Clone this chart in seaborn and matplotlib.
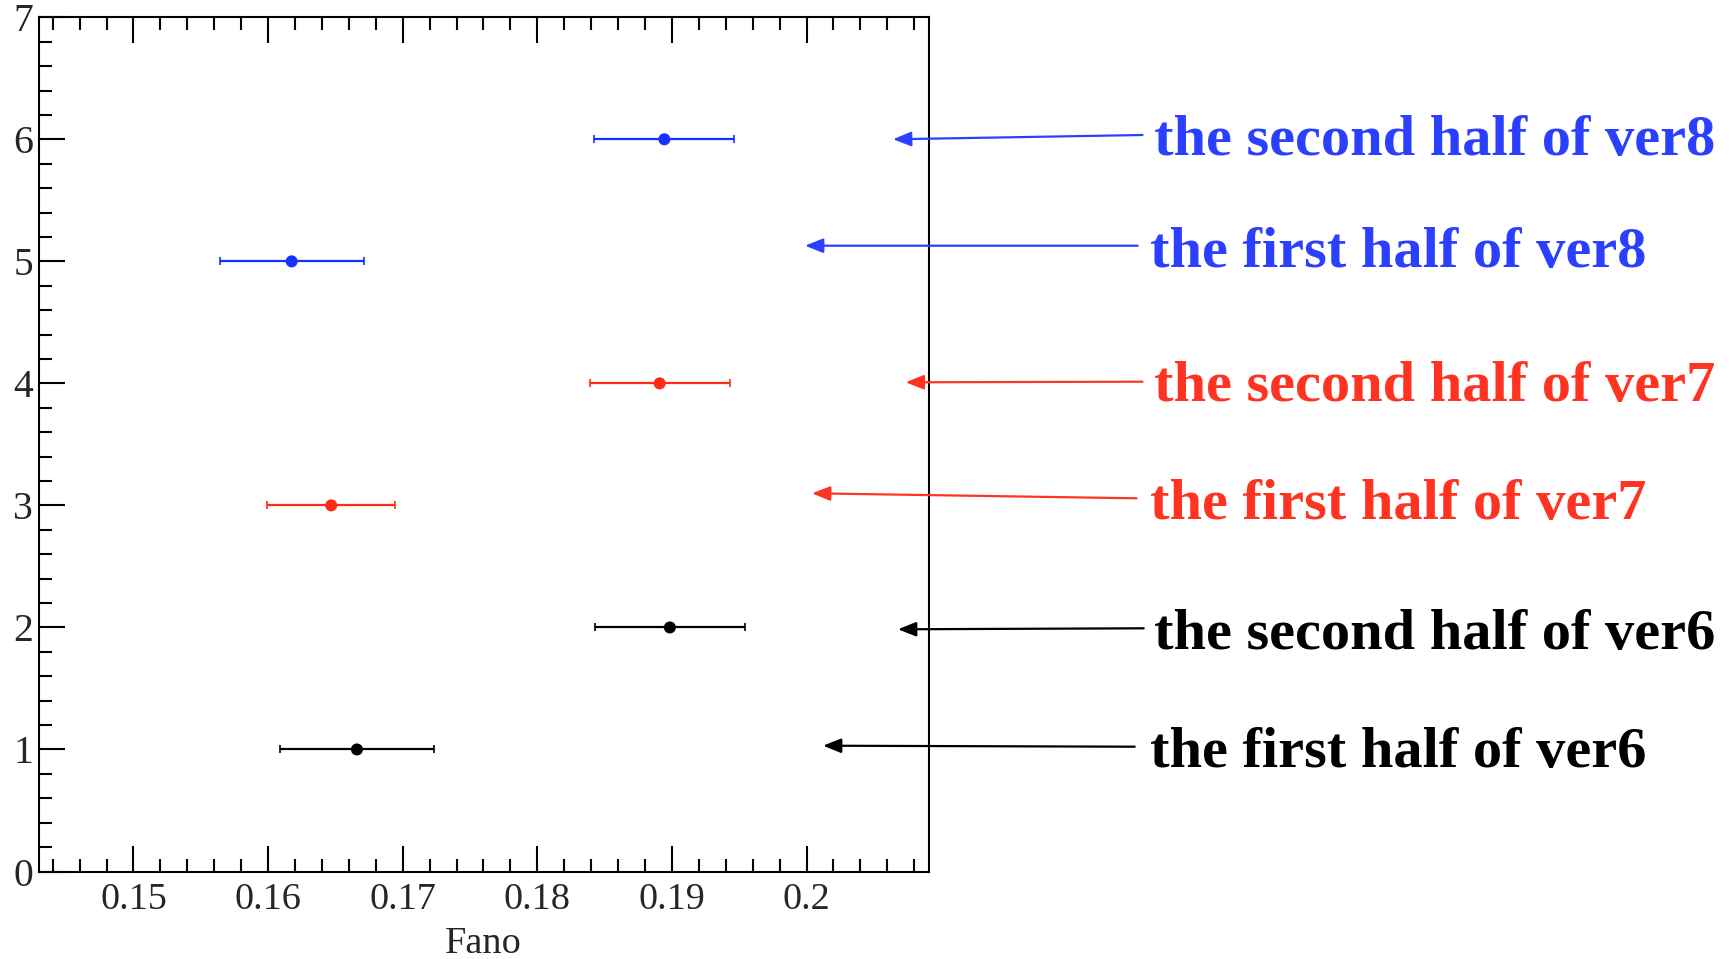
import numpy as np
import pandas as pd
import matplotlib
matplotlib.use("Agg")
import matplotlib.pyplot as plt
from matplotlib.ticker import MultipleLocator, FuncFormatter
import seaborn as sns

# ---------------- data ----------------
labels = ["the first half of ver6", "the second half of ver6",
          "the first half of ver7", "the second half of ver7",
          "the first half of ver8", "the second half of ver8"]
y_index = [1, 2, 3, 4, 5, 6]
fano = [0.1666, 0.18985, 0.16469, 0.18909, 0.16175, 0.18944]
fano_err = [0.0057, 0.00557, 0.00475, 0.0052, 0.00535, 0.0052]
version = ["ver6", "ver6", "ver7", "ver7", "ver8", "ver8"]

df = pd.DataFrame({"label": labels, "y": y_index, "fano": fano,
                   "err": fano_err, "version": version})

# ---------------- style ----------------
sns.set_theme(style="ticks")
plt.rcParams["font.family"] = ["Liberation Serif", "DejaVu Serif"]

W, H = 1730, 959
fig = plt.figure(figsize=(W / 100, H / 100), dpi=100)
ax = fig.add_axes([38.6 / W, 1 - 871.5 / H, (929 - 38.6) / W, (871.5 - 17.3) / H])

palette = {"ver6": "#000000", "ver7": "#ff2a12", "ver8": "#1530ff"}
text_colors = {"ver6": "#000000", "ver7": "#ff3322", "ver8": "#2b40ff"}

for v, sub in df.groupby("version"):
    ax.errorbar(sub["fano"], sub["y"], xerr=sub["err"], fmt="none",
                ecolor=palette[v], elinewidth=1.6, capsize=3, capthick=1.2,
                zorder=2)

sns.scatterplot(data=df, x="fano", y="y", hue="version", palette=palette,
                s=75, edgecolor="none", legend=False, ax=ax, zorder=3)

ax.set_xlim(0.14295, 0.2091)
ax.set_ylim(0, 7)
ax.xaxis.set_major_locator(MultipleLocator(0.01))
ax.xaxis.set_minor_locator(MultipleLocator(0.002))
ax.yaxis.set_major_locator(MultipleLocator(1))
ax.yaxis.set_minor_locator(MultipleLocator(0.2))
ax.xaxis.set_major_formatter(FuncFormatter(lambda v, p: f"{v:.2f}".rstrip("0") if abs(v - 0.2) < 1e-9 else f"{v:.2f}"))
ax.yaxis.set_major_formatter(FuncFormatter(lambda v, p: f"{int(round(v))}"))

for s in ax.spines.values():
    s.set_visible(True)
    s.set_color("black")
    s.set_linewidth(1.5)

ax.tick_params(axis="x", which="both", direction="in", top=True, bottom=True,
               labelsize=27.5, color="black", width=1.5, pad=8)
ax.tick_params(axis="x", which="major", length=18.5)
ax.tick_params(axis="x", which="minor", length=9.2)
ax.tick_params(axis="y", which="both", direction="in", left=True, right=False,
               labelsize=28.5, color="black", width=1.5, pad=4)
ax.tick_params(axis="y", which="major", length=19)
ax.tick_params(axis="y", which="minor", length=9.4)

ax.set_xlabel("Fano", fontsize=27.5, labelpad=7)
ax.set_ylabel("")

# ---------------- annotations (layout, figure pixels from top-left) ----------------
arrow_tip = [(823, 745.7), (898, 629.3), (812, 493.3), (905.7, 382.3), (805, 245.7), (893, 139.3)]
arrow_tail = [(1134.7, 746.7), (1143.7, 628.3), (1136.5, 498.3), (1142.5, 381.7), (1137.7, 245.7), (1142.5, 135)]
text_pos = [(1150, 766.7), (1154, 649.3), (1150, 518.6), (1154, 401), (1150, 266.7), (1154, 155)]

for lab, v, tip, tail, tp in zip(labels, version, arrow_tip, arrow_tail, text_pos):
    c = text_colors[v]
    ax.annotate("", xy=(tip[0] / W, 1 - tip[1] / H), xycoords="figure fraction",
                xytext=(tail[0] / W, 1 - tail[1] / H), textcoords="figure fraction",
                arrowprops=dict(arrowstyle="-|>,head_length=0.55,head_width=0.22",
                                mutation_scale=20, color=c, lw=1.6,
                                shrinkA=0, shrinkB=0),
                annotation_clip=False)
    fig.text(tp[0] / W, 1 - tp[1] / H, lab, color=c, fontsize=42,
             fontweight="bold", ha="left", va="baseline")

fig.savefig("out.png", dpi=100, facecolor="white")
